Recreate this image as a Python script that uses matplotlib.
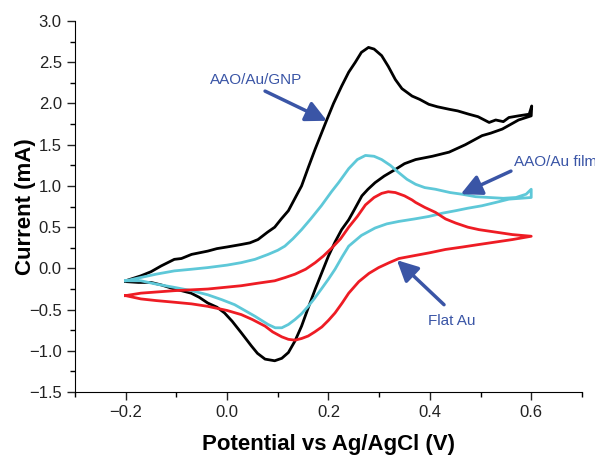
import numpy as np
import matplotlib
matplotlib.use("Agg")
import matplotlib.pyplot as plt

plt.rcParams['font.family'] = ['Liberation Sans', 'DejaVu Sans']

# AAO/Au/GNP (black) - forward and reverse scans
gnp_fwd_v = [-0.2, -0.185, -0.17, -0.15, -0.13, -0.104, -0.09, -0.07, -0.038, -0.02, 0.0, 0.028, 0.045,
             0.061, 0.08, 0.094, 0.107, 0.121, 0.14, 0.147, 0.16, 0.174, 0.185, 0.196, 0.21, 0.226, 0.24,
             0.253, 0.265, 0.279, 0.29, 0.305, 0.318, 0.332, 0.345, 0.365, 0.38, 0.398, 0.415, 0.438,
             0.455, 0.477, 0.495, 0.517, 0.53, 0.545, 0.556, 0.575, 0.596, 0.601]
gnp_fwd_i = [-0.15, -0.12, -0.09, -0.04, 0.03, 0.11, 0.12, 0.17, 0.21, 0.24, 0.26, 0.29, 0.31,
             0.35, 0.44, 0.50, 0.60, 0.70, 0.92, 1.0, 1.22, 1.45, 1.62, 1.79, 2.0, 2.21, 2.38,
             2.50, 2.62, 2.68, 2.66, 2.58, 2.45, 2.29, 2.18, 2.09, 2.05, 1.99, 1.96, 1.93,
             1.91, 1.87, 1.84, 1.77, 1.80, 1.78, 1.83, 1.85, 1.87, 1.97]
gnp_rev_v = [0.6, 0.575, 0.543, 0.52, 0.503, 0.47, 0.438, 0.405, 0.372, 0.35, 0.332, 0.31, 0.292, 0.278,
             0.266, 0.25, 0.24, 0.226, 0.213, 0.2, 0.187, 0.174, 0.16, 0.147, 0.134, 0.121, 0.108, 0.094,
             0.075, 0.06, 0.048, 0.028, 0.01, -0.005, -0.02, -0.038, -0.055, -0.071, -0.09, -0.104,
             -0.13, -0.15, -0.175, -0.2]
gnp_rev_i = [1.85, 1.80, 1.69, 1.64, 1.61, 1.50, 1.41, 1.36, 1.32, 1.27, 1.20, 1.12, 1.04, 0.96,
             0.88, 0.70, 0.59, 0.47, 0.32, 0.15, -0.05, -0.25, -0.48, -0.70, -0.88, -1.02, -1.09, -1.12,
             -1.10, -1.03, -0.94, -0.78, -0.64, -0.54, -0.47, -0.42, -0.35, -0.30, -0.27, -0.25,
             -0.20, -0.17, -0.17, -0.16]

# AAO/Au film (cyan)
film_fwd_v = [-0.2, -0.17, -0.14, -0.104, -0.07, -0.038, 0.0, 0.028, 0.055, 0.081, 0.1, 0.114, 0.13,
              0.147, 0.165, 0.186, 0.206, 0.22, 0.24, 0.257, 0.273, 0.29, 0.305, 0.322, 0.339, 0.355,
              0.372, 0.39, 0.411, 0.44, 0.463, 0.49, 0.517, 0.545, 0.57, 0.59, 0.6]
film_fwd_i = [-0.15, -0.11, -0.07, -0.03, -0.01, 0.01, 0.04, 0.07, 0.11, 0.17, 0.22, 0.27, 0.36,
              0.47, 0.60, 0.76, 0.93, 1.04, 1.21, 1.32, 1.37, 1.36, 1.32, 1.25, 1.16, 1.08,
              1.02, 0.98, 0.96, 0.92, 0.90, 0.87, 0.86, 0.85, 0.86, 0.90, 0.96]
film_rev_v = [0.6, 0.578, 0.556, 0.53, 0.503, 0.475, 0.451, 0.425, 0.398, 0.37, 0.339, 0.315, 0.292,
              0.265, 0.24, 0.227, 0.213, 0.2, 0.186, 0.173, 0.16, 0.147, 0.134, 0.121, 0.108, 0.095,
              0.081, 0.068, 0.055, 0.035, 0.015, -0.01, -0.038, -0.07, -0.104, -0.14, -0.17, -0.2]
film_rev_i = [0.86, 0.85, 0.84, 0.80, 0.76, 0.73, 0.70, 0.67, 0.63, 0.60, 0.57, 0.54, 0.49,
              0.40, 0.27, 0.14, -0.01, -0.13, -0.25, -0.36, -0.46, -0.55, -0.62, -0.68, -0.72, -0.72,
              -0.68, -0.63, -0.58, -0.51, -0.44, -0.38, -0.32, -0.27, -0.23, -0.19, -0.15, -0.15]

# Flat Au (red)
flat_fwd_v = [-0.2, -0.17, -0.104, -0.038, 0.028, 0.06, 0.094, 0.115, 0.134, 0.155, 0.174, 0.19, 0.207,
              0.224, 0.24, 0.257, 0.273, 0.29, 0.305, 0.318, 0.332, 0.35, 0.365, 0.372, 0.39, 0.411,
              0.431, 0.451, 0.475, 0.497, 0.53, 0.563, 0.6]
flat_fwd_i = [-0.33, -0.30, -0.27, -0.25, -0.21, -0.18, -0.15, -0.11, -0.07, -0.01, 0.07, 0.15, 0.25,
              0.36, 0.50, 0.63, 0.77, 0.86, 0.91, 0.93, 0.92, 0.88, 0.83, 0.80, 0.74, 0.68,
              0.60, 0.55, 0.50, 0.47, 0.44, 0.41, 0.39]
flat_rev_v = [0.6, 0.563, 0.53, 0.497, 0.465, 0.431, 0.4, 0.365, 0.339, 0.32, 0.299, 0.28, 0.26, 0.24,
              0.227, 0.213, 0.2, 0.187, 0.173, 0.16, 0.147, 0.134, 0.121, 0.108, 0.09, 0.075, 0.05,
              0.028, 0.0, -0.038, -0.07, -0.104, -0.14, -0.17, -0.2]
flat_rev_i = [0.39, 0.35, 0.32, 0.29, 0.26, 0.23, 0.19, 0.15, 0.12, 0.07, 0.01, -0.06, -0.16, -0.30,
              -0.42, -0.54, -0.63, -0.71, -0.77, -0.82, -0.85, -0.87, -0.86, -0.83, -0.77, -0.70, -0.62,
              -0.56, -0.51, -0.46, -0.43, -0.41, -0.39, -0.37, -0.33]

x_ticks = [-0.2, 0.0, 0.2, 0.4, 0.6]
y_ticks = [-1.5, -1.0, -0.5, 0.0, 0.5, 1.0, 1.5, 2.0, 2.5, 3.0]

blue = '#3a55a6'

fig = plt.figure(figsize=(5.95, 4.57), dpi=100)
ax = fig.add_axes([0.126, 0.142, 0.852, 0.812])

ax.plot(gnp_fwd_v + gnp_rev_v, gnp_fwd_i + gnp_rev_i, color='black', lw=2)
ax.plot(film_fwd_v + film_rev_v, film_fwd_i + film_rev_i, color='#5ec8d8', lw=2)
ax.plot(flat_fwd_v + flat_rev_v, flat_fwd_i + flat_rev_i, color='#ee1c24', lw=2)

ax.set_xlim(-0.3, 0.7)
ax.set_ylim(-1.5, 3.0)
ax.set_xticks(x_ticks)
ax.set_xticks(np.arange(-0.3, 0.71, 0.1), minor=True)
ax.set_yticks(y_ticks)
ax.set_yticks(np.arange(-1.5, 3.01, 0.25), minor=True)
ax.set_xticklabels([f'{t:.1f}'.replace('-', '\u2212') for t in x_ticks])
ax.set_yticklabels([f'{t:.1f}'.replace('-', '\u2212') for t in y_ticks])
ax.tick_params(which='major', direction='out', length=6, width=1, labelsize=12, colors='#222222')
ax.tick_params(which='minor', direction='out', length=3.5, width=1)
ax.spines['top'].set_visible(False)
ax.spines['right'].set_visible(False)

ax.set_xlabel('Potential vs Ag/AgCl (V)', fontsize=16, fontweight='bold', labelpad=10)
ax.set_ylabel('Current (mA)', fontsize=16, fontweight='bold', labelpad=-5)

arrow = dict(arrowstyle='-|>,head_length=0.9,head_width=0.45', color=blue, lw=2.5,
             mutation_scale=14, shrinkA=0, shrinkB=0)

ax.text(0.057, 2.29, 'AAO/Au/GNP', color=blue, fontsize=11, ha='center', va='center')
ax.annotate('', xy=(0.197, 1.79), xytext=(0.075, 2.15), arrowprops=arrow)

ax.text(0.566, 1.29, 'AAO/Au film', color=blue, fontsize=11, ha='left', va='center', clip_on=False)
ax.annotate('', xy=(0.461, 0.90), xytext=(0.56, 1.18), arrowprops=arrow)

ax.text(0.444, -0.64, 'Flat Au', color=blue, fontsize=11, ha='center', va='center')
ax.annotate('', xy=(0.335, 0.10), xytext=(0.428, -0.44), arrowprops=arrow)

fig.savefig('out.png', dpi=100)
